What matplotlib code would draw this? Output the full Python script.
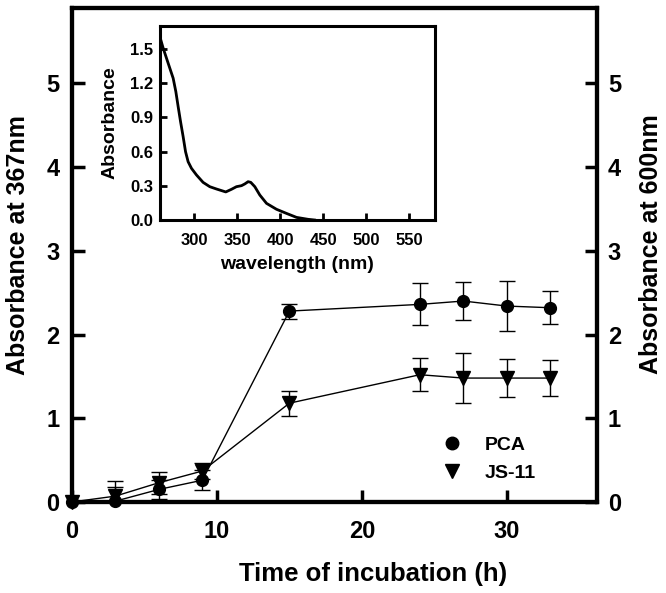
import numpy as np
import matplotlib
matplotlib.use('Agg')
import matplotlib.pyplot as plt
from matplotlib.lines import Line2D

plt.rcParams['font.family'] = ['Liberation Sans', 'DejaVu Sans']
plt.rcParams['font.weight'] = 'bold'
plt.rcParams['axes.labelweight'] = 'bold'

# incubation time course
time_h = [0, 3, 6, 9, 15, 24, 27, 30, 33]
pca = [0.0, 0.01, 0.15, 0.26, 2.28, 2.36, 2.40, 2.34, 2.32]
pca_err = [0.0, 0.17, 0.11, 0.12, 0.09, 0.25, 0.23, 0.30, 0.20]
js11 = [0.0, 0.07, 0.23, 0.37, 1.18, 1.52, 1.48, 1.48, 1.48]
js11_err = [0.0, 0.18, 0.13, 0.10, 0.15, 0.20, 0.30, 0.23, 0.21]

# inset: absorption spectrum
wavelength = [260.0, 263.9, 269.7, 275.5, 278.6, 281.3, 284.1, 287.1, 289.9,
              292.9, 296.8, 302.6, 310.3, 318.1, 325.8, 336.7, 343.3, 349.1,
              355.0, 358.8, 362.7, 365.8, 370.5, 376.3, 384.1, 395.7, 407.3,
              419.0, 432.5, 440.0]
absorb = [1.608, 1.506, 1.374, 1.243, 1.126, 0.994, 0.862, 0.731, 0.599,
          0.511, 0.453, 0.395, 0.330, 0.292, 0.272, 0.246, 0.269, 0.292,
          0.301, 0.316, 0.336, 0.330, 0.292, 0.219, 0.146, 0.094, 0.058,
          0.023, 0.006, 0.0]

fig = plt.figure(figsize=(6.66, 5.93), dpi=100)
ax = fig.add_axes([0.108, 0.1535, 0.788, 0.833])

ax.errorbar(time_h, pca, yerr=pca_err, fmt='-', color='black', lw=1.0,
            elinewidth=1.0, capsize=6, capthick=1.0, zorder=3)
ax.errorbar(time_h, js11, yerr=js11_err, fmt='-', color='black', lw=1.0,
            elinewidth=1.0, capsize=6, capthick=1.0, zorder=3)
ax.plot(time_h, pca, 'o', color='black', ms=8.5, clip_on=False, zorder=4)
ax.plot(time_h, js11, 'v', color='black', ms=10, clip_on=False, zorder=4)

ax.set_xlim(0, 36.2)
ax.set_ylim(0, 5.9)
ax.set_xticks([0, 10, 20, 30])
ax.set_yticks([0, 1, 2, 3, 4, 5])
for s in ax.spines.values():
    s.set_linewidth(3.0)
ax.tick_params(axis='both', direction='in', length=9, width=2.5, labelsize=17)
ax.tick_params(axis='x', pad=13)
ax.tick_params(axis='y', pad=9)
ax.set_xlabel('Time of incubation (h)', fontsize=18.5)
ax.xaxis.set_label_coords(0.573, -0.122)
ax.set_ylabel('Absorbance at 367nm', fontsize=18)
ax.yaxis.set_label_coords(-0.080, 0.521)

ax2 = ax.twinx()
ax2.set_ylim(0, 5.9)
ax2.set_yticks([0, 1, 2, 3, 4, 5])
ax2.tick_params(axis='y', direction='in', length=9, width=2.5, labelsize=17, pad=8)
ax2.set_ylabel('Absorbance at 600nm', fontsize=18)
ax2.yaxis.set_label_coords(1.080, 0.521)
for s in ax2.spines.values():
    s.set_linewidth(3.0)

handles = [Line2D([], [], marker='o', ls='none', color='black', ms=9),
           Line2D([], [], marker='v', ls='none', color='black', ms=10)]
ax.legend(handles, ['PCA', 'JS-11'], loc='upper left', bbox_to_anchor=(0.654, 0.169),
          frameon=False, fontsize=14, handletextpad=0.7, labelspacing=0.55)

# inset
ins = fig.add_axes([0.240, 0.629, 0.413, 0.327])
ins.plot(wavelength, absorb, color='black', lw=2.0)
ins.set_xlim(260, 580)
ins.set_ylim(0, 1.70)
ins.set_xticks([300, 350, 400, 450, 500, 550])
ins.set_yticks([0.0, 0.3, 0.6, 0.9, 1.2, 1.5])
ins.set_yticklabels(['0.0', '0.3', '0.6', '0.9', '1.2', '1.5'])
for s in ins.spines.values():
    s.set_linewidth(2.2)
ins.tick_params(axis='both', direction='in', length=5, width=2.0, labelsize=12)
ins.tick_params(axis='x', pad=9)
ins.tick_params(axis='y', pad=5)
ins.set_xlabel('wavelength (nm)', fontsize=14, labelpad=6)
ins.set_ylabel('Absorbance', fontsize=14, labelpad=8)

fig.savefig('out.png', dpi=100)
